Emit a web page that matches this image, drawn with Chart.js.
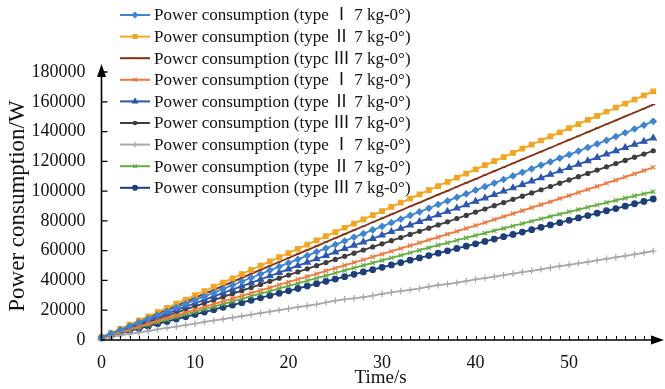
<!DOCTYPE html>
<html>
<head>
<meta charset="utf-8">
<script src="https://cdn.jsdelivr.net/npm/chart.js@4.4.1/dist/chart.umd.min.js"></script>
<style>
html,body{margin:0;padding:0;background:#fff;}
#wrap{width:665px;height:389px;position:relative;}
</style>
</head>
<body>
<div id="wrap"><canvas id="c" width="665" height="389"></canvas></div>
<script>
// ---- data (power values in thousands of W) ----
const timeS = [0,1,2,3,4,5,6,7,8,9,10,11,12,13,14,15,16,17,18,19,20,21,22,23,24,25,26,27,28,29,30,31,32,33,34,35,36,37,38,39,40,41,42,43,44,45,46,47,48,49,50,51,52,53,54,55,56,57,58,59];

const s1TypeI = [1.9,4.3,6.8,9.3,11.8,14.3,16.8,19.3,21.8,24.3,26.8,29.3,31.8,34.3,36.8,39.3,41.8,44.3,46.8,49.3,51.8,54.2,56.7,59.2,61.6,64.1,66.5,69.0,71.4,73.9,76.3,78.8,81.2,83.7,86.1,88.5,91.0,93.4,95.8,98.2,100.6,103.0,105.4,107.8,110.2,112.6,115.0,117.4,119.7,122.1,124.5,126.9,129.3,131.7,134.1,136.6,139.2,141.7,144.3,146.9];
const s2TypeII = [2.0,4.6,7.5,10.3,13.2,15.9,18.8,21.6,24.5,27.2,30.1,32.9,35.8,38.6,41.4,44.3,47.1,49.9,52.8,55.6,58.4,61.2,64.1,66.9,69.7,72.5,75.4,78.2,81.0,83.8,86.6,89.4,92.2,95.0,97.8,100.6,103.4,106.2,109.0,111.8,114.6,117.4,120.1,122.9,125.7,128.5,131.2,134.0,136.8,139.5,142.3,145.0,147.8,150.5,153.3,156.0,158.8,161.5,164.3,167.0];
const s3TypeIII = [1.8,4.3,6.9,9.6,12.2,14.9,17.6,20.3,23.0,25.6,28.3,31.0,33.7,36.4,39.0,41.7,44.4,47.1,49.8,52.4,55.1,57.8,60.4,63.1,65.8,68.4,71.1,73.8,76.4,79.1,81.7,84.4,87.0,89.7,92.3,95.0,97.6,100.2,102.9,105.5,108.1,110.8,113.4,116.0,118.6,121.3,123.9,126.5,129.1,131.8,134.4,137.0,139.6,142.3,144.9,147.5,150.2,152.8,155.4,158.1];
const s4TypeI = [1.5,3.4,5.3,7.2,9.1,11.0,12.9,14.8,16.6,18.5,20.4,22.2,24.1,26.0,27.8,29.7,31.5,33.4,35.2,37.1,38.9,40.8,42.6,44.5,46.4,48.2,50.1,52.0,53.9,55.8,57.7,59.6,61.5,63.4,65.3,67.2,69.1,71.1,73.0,75.0,76.9,78.9,80.9,82.9,84.9,86.9,88.9,90.9,92.9,95.0,97.0,99.1,101.1,103.2,105.3,107.4,109.5,111.6,113.8,116.0];
const s5TypeII = [1.7,4.0,6.3,8.6,10.9,13.2,15.5,17.8,20.1,22.4,24.7,27.0,29.3,31.6,33.9,36.2,38.4,40.7,43.0,45.3,47.6,49.9,52.2,54.4,56.7,59.0,61.3,63.6,65.8,68.1,70.4,72.7,74.9,77.2,79.5,81.7,84.0,86.3,88.5,90.8,93.1,95.3,97.6,99.9,102.1,104.4,106.7,108.9,111.2,113.5,115.7,118.0,120.3,122.5,124.8,127.0,129.2,131.3,133.4,135.6];
const s6TypeIII = [1.6,3.7,5.8,7.9,10.0,12.1,14.2,16.3,18.4,20.5,22.6,24.7,26.8,28.9,31.0,33.1,35.2,37.3,39.4,41.5,43.6,45.7,47.8,49.9,52.0,54.1,56.2,58.3,60.4,62.5,64.6,66.7,68.8,70.9,73.0,75.1,77.3,79.4,81.6,83.7,85.9,88.0,90.2,92.3,94.5,96.6,98.8,100.9,103.1,105.3,107.5,109.7,111.9,114.1,116.3,118.5,120.6,122.8,124.9,127.1];
const s7TypeI = [1.0,2.0,3.1,4.1,5.0,6.0,7.1,8.1,9.0,10.0,11.0,12.1,13.1,14.0,15.0,16.1,17.1,18.0,19.0,20.0,21.1,22.1,23.0,24.0,25.2,26.4,27.3,28.0,28.8,29.8,31.0,32.0,32.8,33.6,34.6,35.8,36.8,37.6,38.5,39.6,40.7,41.6,42.5,43.5,44.6,45.6,46.5,47.5,48.6,49.6,50.5,51.5,52.5,53.5,54.5,55.5,56.5,57.5,58.6,59.7];
const s8TypeII = [1.5,3.2,5.0,6.7,8.5,10.2,12.0,13.7,15.4,17.2,18.9,20.7,22.4,24.1,25.9,27.6,29.4,31.1,32.8,34.6,36.3,38.0,39.8,41.5,43.2,45.0,46.7,48.4,50.1,51.8,53.5,55.2,56.9,58.6,60.3,62.0,63.7,65.3,67.0,68.6,70.2,71.8,73.4,75.0,76.6,78.2,79.8,81.4,83.0,84.5,86.1,87.6,89.2,90.7,92.3,93.8,95.3,96.8,98.2,99.6];
const s9TypeIII = [1.4,3.0,4.6,6.1,7.7,9.3,10.9,12.5,14.1,15.6,17.2,18.8,20.4,22.0,23.5,25.1,26.7,28.3,29.9,31.4,33.0,34.6,36.2,37.8,39.4,40.9,42.5,44.1,45.7,47.2,48.8,50.4,52.0,53.6,55.1,56.7,58.3,59.9,61.5,63.0,64.6,66.2,67.8,69.4,70.9,72.5,74.1,75.7,77.3,78.8,80.4,82.0,83.6,85.2,86.8,88.3,89.9,91.5,93.1,94.7];

const seriesLabels = [
  "Power consumption (type \u2160 7 kg-0\u00b0)",
  "Power consumption (type \u2161 7 kg-0\u00b0)",
  "Powcr consumption (typc \u2162 7 kg-0\u00b0)",
  "Power consumption (type \u2160 7 kg-0\u00b0)",
  "Power consumption (type \u2161 7 kg-0\u00b0)",
  "Power consumption (type \u2162 7 kg-0\u00b0)",
  "Power consumption (type \u2160 7 kg-0\u00b0)",
  "Power consumption (type \u2161 7 kg-0\u00b0)",
  "Power consumption (type \u2162 7 kg-0\u00b0)"
];
const seriesValues = [s1TypeI, s2TypeII, s3TypeIII, s4TypeI, s5TypeII, s6TypeIII, s7TypeI, s8TypeII, s9TypeIII];
const yTickValues = [0,20000,40000,60000,80000,100000,120000,140000,160000,180000];
const xTickLabels = [0,10,20,30,40,50];

// ---- styles ----
const styles = [
  {c:'#3d85d2', ps:'rectRot', r:3},
  {c:'#f5a41e', ps:'rect', r:3.2},
  {c:'#862f0e', ps:'line', r:2},
  {c:'#f0783a', ps:'crossRot', r:3},
  {c:'#2c56b2', ps:'triangle', r:3.5},
  {c:'#3e3e3e', ps:'circle', r:2},
  {c:'#a8a8a8', ps:'cross', r:3.3},
  {c:'#62ad40', ps:'crossRot', r:3},
  {c:'#1c3f7c', ps:'circle', r:2.8}
];

const SERIF = '"Liberation Serif", "Noto Sans CJK SC", serif';

const datasets = seriesValues.map((vals, i) => ({
  label: seriesLabels[i],
  data: vals.map((v, j) => ({x: timeS[j], y: v * 1000})),
  borderColor: styles[i].c,
  backgroundColor: styles[i].c,
  borderWidth: 1.8,
  pointStyle: styles[i].ps,
  pointRadius: styles[i].r,
  pointBorderWidth: 1.2,
  pointBorderColor: styles[i].c,
  pointBackgroundColor: styles[i].c,
  tension: 0,
  clip: false
}));

const axesPlugin = {
  id: 'axesArrows',
  afterDatasetsDraw(chart) {
    const ctx = chart.ctx, xs = chart.scales.x, ys = chart.scales.y;
    const x0 = xs.getPixelForValue(0), y0 = ys.getPixelForValue(0);
    const xEnd = chart.width - 1, yTop = ys.getPixelForValue(180000) - 8;
    ctx.save();
    ctx.strokeStyle = '#000'; ctx.fillStyle = '#000'; ctx.lineWidth = 1.6;
    ctx.beginPath();
    ctx.moveTo(x0, y0); ctx.lineTo(xEnd - 8, y0);
    ctx.moveTo(x0, y0); ctx.lineTo(x0, yTop + 8);
    ctx.stroke();
    ctx.beginPath();
    ctx.moveTo(xEnd, y0); ctx.lineTo(xEnd - 13, y0 - 4.5); ctx.lineTo(xEnd - 13, y0 + 4.5); ctx.closePath(); ctx.fill();
    ctx.beginPath();
    ctx.moveTo(x0, yTop); ctx.lineTo(x0 - 4.5, yTop + 13); ctx.lineTo(x0 + 4.5, yTop + 13); ctx.closePath(); ctx.fill();
    ctx.lineWidth = 1;
    ctx.beginPath();
    for (let t = 1; t <= 59; t++) {
      const px = Math.round(xs.getPixelForValue(t)) + 0.5;
      ctx.moveTo(px, y0); ctx.lineTo(px, y0 - 4);
    }
    ctx.stroke();
    ctx.lineWidth = 1.3;
    ctx.beginPath();
    yTickValues.forEach(v => {
      if (v === 0) return;
      const py = ys.getPixelForValue(v);
      ctx.moveTo(x0, py); ctx.lineTo(x0 + 6, py);
    });
    ctx.stroke();
    ctx.restore();
  }
};

const legendPlugin = {
  id: 'customLegend',
  afterDraw(chart) {
    const ctx = chart.ctx;
    ctx.save();
    ctx.font = '17px ' + SERIF;
    ctx.textBaseline = 'middle';
    ctx.textAlign = 'left';
    chart.data.datasets.forEach((ds, i) => {
      const y = 15 + 21.6 * i;
      ctx.strokeStyle = ds.borderColor; ctx.lineWidth = 2;
      ctx.beginPath(); ctx.moveTo(120, y); ctx.lineTo(150, y); ctx.stroke();
      ctx.fillStyle = ds.pointBackgroundColor; ctx.strokeStyle = ds.pointBorderColor; ctx.lineWidth = 1.2;
      Chart.helpers.drawPoint(ctx, {pointStyle: ds.pointStyle, radius: ds.pointRadius * 0.85, borderWidth: 1.2, rotation: 0}, 135, y);
      ctx.fillStyle = '#111';
      ctx.fillText(ds.label, 154, y + 1);
    });
    ctx.restore();
  }
};

new Chart(document.getElementById('c'), {
  type: 'line',
  data: { datasets },
  plugins: [axesPlugin, legendPlugin],
  options: {
    responsive: false,
    animation: false,
    devicePixelRatio: 1,
    layout: { padding: { top: 72, right: 0, bottom: 0, left: 0 } },
    plugins: { legend: { display: false }, tooltip: { enabled: false } },
    scales: {
      x: {
        type: 'linear', min: 0, max: 59.7,
        grid: { display: false }, border: { display: false },
        ticks: {
          stepSize: 10, includeBounds: false, autoSkip: false, maxRotation: 0,
          color: '#111', padding: 4, font: { family: SERIF, size: 18 },
          callback: v => xTickLabels.includes(v) ? String(v) : ''
        },
        title: { display: true, text: 'Time/s', color: '#111', font: { family: SERIF, size: 19 }, padding: { top: 0, bottom: 0 } },
        afterFit(s) { s.height = 49; }
      },
      y: {
        min: 0, max: 180000,
        grid: { display: false }, border: { display: false },
        ticks: {
          stepSize: 20000, color: '#111', padding: 8, font: { family: SERIF, size: 18 },
          callback: v => yTickValues.includes(v) ? String(v) : ''
        },
        title: { display: true, text: 'Power consumption/W', color: '#111', font: { family: SERIF, size: 23 }, padding: { top: 4, bottom: 0 } },
        afterFit(s) { s.width = 101.5; }
      }
    }
  }
});
</script>
</body>
</html>
